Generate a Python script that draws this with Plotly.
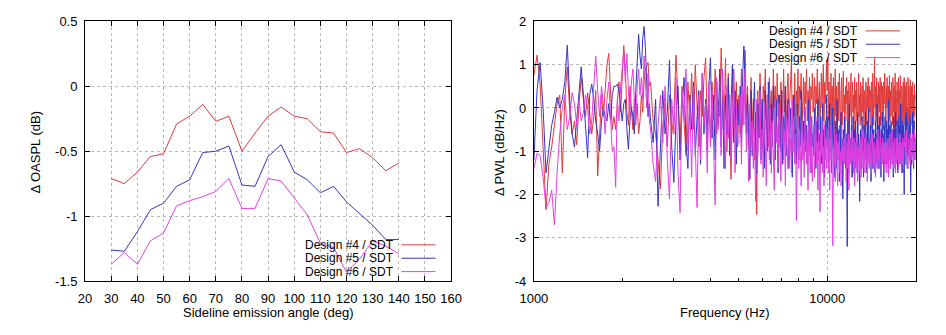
import math
import plotly.graph_objects as go

# ---------------- Left panel data ----------------
angles = [30, 35, 40, 45, 50, 55, 60, 65, 70, 75, 80, 85, 90, 95, 100, 105, 110, 115, 120, 125, 130, 135, 140]
oaspl_d4 = [-0.71, -0.75, -0.66, -0.54, -0.52, -0.29, -0.23, -0.14, -0.27, -0.23, -0.50, -0.36, -0.23,
            -0.16, -0.23, -0.25, -0.35, -0.36, -0.51, -0.48, -0.55, -0.65, -0.59]
oaspl_d5 = [-1.26, -1.27, -1.12, -0.95, -0.90, -0.77, -0.72, -0.51, -0.50, -0.46, -0.76, -0.77, -0.54,
            -0.45, -0.66, -0.72, -0.82, -0.77, -0.89, -0.98, -1.07, -1.18, -1.18]
oaspl_d6 = [-1.37, -1.28, -1.37, -1.19, -1.13, -0.92, -0.88, -0.85, -0.81, -0.71, -0.94, -0.94, -0.71,
            -0.73, -0.86, -0.99, -1.21, -1.24, -1.43, -1.33, -1.19, -1.23, -1.29]

# ---------------- Right panel data ----------------
freq = list(range(1000, 2500, 25)) + list(range(2500, 20001, 50))

pwl_d4 = [
    # 1000-2475 Hz (25 Hz)
    0.75, 1.22, 0.55, -0.85, -2.35, -1.3, -0.9, -0.4, 0.1, 0.3,
    -1.5, 0.2, 0.95, -0.1, -0.6, -0.3, -0.85, 0.1, 0.7, 0.2,
    -0.2, 0.35, -0.1, -0.6, -0.2, 0.4, -1.57, -0.6, 0.3, -0.2,
    0.5, 1.0, 1.26, 0.2, -0.5, -0.2, -0.5, 0.1, 0.6, -0.1,
    0.7, 1.44, 0.9, -0.1, -0.4, 0.5, 0.0, -0.5, 0.2, -0.3,
    0.1, -0.6, -0.3, 0.3, -0.1, 0.6, 0.9, 1.0, 1.05, 0.5,
    # 2500-4950 Hz (50 Hz)
    0.6, -0.3, -0.6, -1.2, -1.87, -0.4, 0.1, -0.9, 0.3, -0.6,
    -0.2, 1.22, 0.2, -0.8, 0.5, -0.4, -1.1, 0.6, -0.3, 0.8,
    -0.5, 1.0, 0.1, -0.9, 0.4, -0.2, 0.7, 1.15, -0.4, 0.3,
    -0.8, 0.6, -0.3, 0.9, -0.6, 0.2, -0.2, 1.38, 0.1, -0.5,
    1.15, -1.0, 0.8, -0.4, -1.65, 0.2, 0.9, -0.4, 0.6, -0.9,
    # 5000-9950 Hz
    0.3, -0.6, 0.9, -0.4, 0.6, 1.33, -0.2, 0.5, -0.9, -0.3,
    0.7, -0.5, 0.2, -1.2, -0.1, -2.46, 0.4, -0.7, 0.8, -0.2,
    -0.8, 0.5, 0.1, 0.9, -0.5, 0.3, -0.9, 0.7, -0.1, 0.4,
    -0.6, 0.9, 0.0, 0.5, -0.7, 0.8, -0.2, 0.3, -0.9, 0.6,
    0.1, -0.5, 0.9, -0.1, 0.5, -0.8, 0.4, 0.8, -0.3, 0.2,
    0.6, 1.07, -0.4, 0.3, -0.2, 0.8, -0.6, 0.4, 0.0, 0.9,
    -0.4, 0.5, 0.2, 0.8, -0.5, 0.3, 0.7, -0.2, 0.6, 0.1,
    0.9, -0.3, 0.4, 0.0, 0.7, -0.6, 0.5, 0.2, 0.8, -0.1,
    0.3, 0.7, -0.4, 0.5, 0.1, 0.9, -0.2, 0.4, 0.6, -0.5,
    0.2, 0.8, 0.0, 0.5, 1.0, -0.3, 0.6, 0.1, 0.7, 1.1,
    # 10000-20000 Hz
    0.4, 1.15, -0.3, 0.6, -0.7, 0.2, 0.8, -0.4, 0.5, -0.1,
    0.7, -0.6, 0.3, 0.9, -0.2, 0.5, -0.8, 0.1, 0.6, -0.3,
    0.8, 0.0, -0.5, 0.4, 0.7, -0.4, 0.2, 0.85, -0.1, 0.3,
    -0.6, 0.5, 0.1, 0.7, -0.3, 0.4, -0.7, 0.6, 0.2, -0.2,
    0.5, 0.8, -0.4, 0.1, 0.6, -0.1, 0.3, -0.6, 0.7, 0.0,
    0.4, -0.3, 0.6, 0.2, -0.5, 0.5, 0.8, -0.2, 0.3, -0.4,
    0.6, 0.1, -0.3, 0.5, -0.1, 0.7, 0.0, -0.5, 0.4, 0.2,
    -0.2, 0.6, 0.3, -0.4, 0.5, 0.0, 0.7, -0.3, 0.2, 0.5,
    -0.1, 0.4, -0.5, 0.6, 0.2, -0.2, 0.8, 0.1, -0.4, 0.3,
    1.15, 0.0, 0.5, -0.3, 0.4, 0.7, -0.2, 0.3, -0.5, 0.6,
    0.1, 0.5, -0.1, 0.7, -0.4, 0.3, 0.6, 0.0, -0.3, 0.5,
    0.2, -0.5, 0.6, 0.1, 0.8, -0.2, 0.4, -0.4, 0.5, 0.0,
    0.7, -0.1, 0.3, -0.6, 0.5, 0.2, 0.75, -0.3, 0.1, 0.4,
    -0.2, 0.6, 0.0, 0.4, -0.4, 0.7, 0.2, -0.1, 0.5, -0.5,
    0.3, 0.8, -0.2, 0.4, 0.1, -0.4, 0.6, 0.0, 0.5, -0.3,
    0.7, 0.1, -0.5, 0.4, 0.2, 0.75, -0.2, 0.3, -0.6, 0.5,
    0.0, 0.4, -0.3, 0.6, 0.2, -0.4, 0.7, 0.1, -0.2, 0.5,
    -0.5, 0.3, 0.6, -0.1, 0.4, 0.0, -0.4, 0.7, 0.2, -0.3,
    0.5, 0.1, -0.6, 0.4, 0.65, -0.2, 0.3, 0.0, 0.5, -0.4,
    0.2, 0.6, -0.1, 0.3, -0.5, 0.4, 0.1, 0.55, -0.2, 0.3,
    0.2,
]

pwl_d5 = [
    # 1000-2475 Hz (25 Hz)
    -1.2, 0.4, 1.05, 0.0, -1.5, -0.9, -0.4, -0.1, 0.25, 0.0,
    0.2, 0.6, 1.45, 0.2, -0.6, -0.9, -0.3, 0.2, 0.95, 0.3,
    -0.5, -1.15, 0.3, 0.55, 0.2, -0.3, -0.6, -1.0, -0.3, 0.0,
    -0.2, -0.3, 0.1, -0.3, 0.3, 0.5, 0.5, 0.55, 0.4, 0.0,
    -0.3, 0.1, 0.2, -0.5, -0.95, -0.3, 0.0, -0.2, -0.6, 0.4,
    1.0, 1.7, 1.2, 0.9, 1.6, 1.88, 1.4, 0.3, -0.2, 0.1,
    # 2500-4950 Hz (50 Hz)
    -0.3, -0.8, 0.2, -2.27, -1.0, 0.4, -0.6, -0.1, 1.1, -0.9,
    -1.72, -0.3, 0.5, -1.2, 0.0, 0.7, -0.8, -1.4, 0.3, -0.5,
    0.6, -1.1, -0.2, 0.4, -1.3, 0.8, -0.6, 0.2, -1.0, 0.5,
    1.16, -0.7, 0.3, -1.2, 0.6, -0.4, 0.9, -0.9, 0.2, -1.4,
    0.3, -0.6, 0.7, -1.1, 0.1, 1.0, -0.8, 0.4, -1.3, 0.2,
    # 5000-9950 Hz
    -0.4, 0.5, -0.9, 0.8, 1.43, 0.2, -0.6, 0.3, -0.8, -1.65,
    0.4, -1.1, -0.2, 0.6, -0.9, -1.5, 0.1, -0.7, 0.5, -1.2,
    0.2, -0.8, -1.4, 0.4, -0.3, -1.0, 0.6, -0.6, -1.3, 0.1,
    -0.9, 0.5, -0.4, -1.2, 0.2, -0.7, -1.5, 0.3, -0.5, -1.0,
    0.4, -1.3, -0.2, -0.8, 0.5, -1.1, -0.4, 0.2, -1.4, -0.6,
    0.0, -0.9, -1.6, -0.3, 0.3, -1.0, -0.5, -1.3, 0.1, -0.7,
    -1.2, -0.2, -0.9, 0.4, -0.6, -1.1, -0.3, -0.8, 0.0, -1.0,
    -0.4, -1.3, -0.7, 0.2, -1.0, -0.5, -1.5, -0.2, -0.9, -0.6,
    -1.1, 0.0, -0.8, -1.4, -0.3, -0.9, 0.2, -1.2, -0.6, -1.0,
    -0.2, -1.3, -0.7, 0.1, -1.1, -0.5, -1.6, -0.3, -0.9, 0.3,
    # 10000-20000 Hz
    -0.8, -0.2, -1.3, -0.5, 0.1, -1.0, -0.4, -1.5, -0.7, 0.0,
    -1.1, -0.6, -1.6, -0.3, -0.9, -1.4, 0.2, -0.8, -1.2, -0.5,
    -1.7, -0.4, -1.0, -0.1, -1.3, -0.7, -2.1, -0.5, -1.1, -0.2,
    -0.9, -1.4, -0.6, -1.0, -3.2, -0.3, -1.5, -0.8, 0.1, -1.2,
    -0.7, -1.3, -0.4, -1.0, -1.6, -0.2, -0.9, -1.2, -0.5, -1.4,
    -0.3, -1.1, -0.8, -1.5, -0.1, -0.9, -0.6, -1.0, -2.16, -1.3,
    -0.5, -0.9, -1.4, -0.2, -1.1, -0.7, -1.6, -0.4, -0.8, -1.2,
    -0.1, -1.0, -0.6, -1.5, -0.3, -1.2, -0.8, 0.0, -1.3, -0.7,
    -1.1, -0.4, -1.7, -0.6, -0.9, -0.2, -1.4, -0.8, -0.5, -1.2,
    -0.7, -1.5, -0.3, -1.0, -0.6, -1.3, 0.1, -0.9, -1.1, -0.4,
    -1.4, -0.8, -0.2, -1.1, -0.6, -1.6, -0.5, -0.9, -0.1, -1.2,
    -0.6, -1.0, -1.7, -0.4, -0.8, -0.2, -1.3, -0.7, -1.0, -0.3,
    -1.2, -0.5, -0.9, -1.5, 0.2, -0.8, -1.1, -0.4, -1.4, -0.6,
    -0.3, -1.0, -0.7, -1.3, -0.5, -0.9, -1.6, -0.2, -0.8, -1.1,
    -0.5, -1.4, -0.1, -0.9, -1.2, -0.6, -0.3, -1.0, -1.5, -0.7,
    -0.2, -1.1, -0.8, -0.4, -1.3, -0.6, 0.1, -0.9, -1.2, -0.5,
    -1.0, -0.3, -1.5, -0.7, -0.4, -1.1, -2.0, -0.6, -0.9, -0.2,
    -1.3, -0.7, -0.1, -1.0, -0.5, -1.4, -0.8, -0.3, -1.1, -0.6,
    -0.9, -0.4, -1.2, -0.6, -0.2, -1.95, -1.0, -0.7, -1.3, -0.4,
    -0.8, -0.1, -1.1, -0.5, -1.4, -0.7, -0.3, -1.0, -0.6, -1.2,
    -0.7,
]

pwl_d6 = [
    # 1000-2475 Hz (25 Hz)
    -1.4, -1.05, -1.1, -1.6, -2.3, -2.2, -1.9, -2.7, -1.5, -0.6,
    0.0, 0.3, -0.5, -0.2, 0.35, 0.1, -0.4, 0.2, -0.3, -0.1,
    0.3, 0.0, -0.6, -0.3, 0.5, 1.2, 0.4, -0.2, 0.5, 0.1,
    -0.6, 0.2, 0.6, -0.4, -1.0, -0.9, -1.83, 0.2, -0.3, 0.5,
    1.0, 1.3, 0.6, 1.25, 0.4, -0.2, 0.6, 0.9, 0.2, -0.4,
    0.5, 0.9, 0.3, 0.7, 0.2, 1.2, 0.6, 0.0, 0.8, -0.3,
    # 2500-4950 Hz (50 Hz)
    -0.5, -1.3, -1.7, -0.4, 0.3, -0.8, 0.5, -1.2, -2.1, 0.2,
    -0.6, 0.7, -1.5, -2.42, 0.4, -0.3, 0.9, -1.0, 0.2, -1.6,
    0.5, -0.8, -2.3, 0.3, -1.2, 0.8, -0.4, 0.1, -1.5, 0.6,
    -0.9, 0.4, -1.3, -2.24, 0.7, -0.5, 0.2, -1.1, 0.9, -0.3,
    -1.4, 0.5, -0.7, 0.3, -1.2, -0.2, 0.8, -1.5, 0.1, -0.8,
    # 5000-9950 Hz
    -0.8, 0.3, -1.3, 0.5, -0.4, 0.9, -1.0, -0.2, -1.7, 0.1,
    -0.9, -0.3, -1.4, -0.5, -2.16, 0.2, -1.1, -0.6, 0.4, -1.3,
    -0.5, -1.6, 0.1, -0.9, -1.8, 0.3, -0.7, -1.2, 0.0, -1.5,
    -0.3, -1.1, -1.9, 0.2, -0.8, -0.4, -1.4, 0.1, -1.0, -1.7,
    -0.6, 0.0, -1.2, -0.5, -1.8, -0.2, -0.9, -1.4, 0.1, -1.1,
    -0.7, -1.5, 0.2, -1.0, -0.4, -1.3, -0.6, -2.6, -1.1, -0.2,
    -1.4, -0.5, -1.0, -1.8, -0.3, -1.2, -0.8, -1.6, 0.0, -0.9,
    -1.3, -0.6, -1.9, -0.4, -1.1, -1.5, -0.2, -1.0, -1.7, -0.7,
    -0.4, -1.6, -1.0, -0.2, -1.3, -0.8, -1.9, -0.5, -1.2, -2.4,
    -0.6, -1.1, -0.3, -1.5, -0.9, -1.8, -0.4, -1.2, -0.7, -1.4,
    # 10000-20000 Hz
    -1.1, -0.5, -1.5, -0.8, -1.9, -0.4, -1.2, -0.7, -1.6, -3.18,
    -0.9, -1.3, -0.5, -1.7, -1.0, -0.6, -1.4, -1.8, -0.8, -1.2,
    -0.6, -1.5, -1.0, -1.8, -0.4, -1.2, -0.9, -1.6, -0.7, -1.3,
    -1.0, -0.5, -1.7, -1.1, -0.8, -1.4, -0.6, -1.9, -1.2, -0.7,
    -1.3, -0.9, -1.6, -0.5, -1.2, -1.0, -1.5, -0.7, -1.8, -1.1,
    -0.8, -1.4, -1.0, -0.6, -1.7, -1.2, -0.9, -1.5, -1.3, -0.7,
    -1.2, -1.6, -0.8, -1.1, -0.5, -1.4, -1.0, -1.3, -0.7, -1.5,
    -1.0, -0.6, -1.3, -1.1, -1.7, -0.8, -1.2, -0.9, -1.4, -1.0,
    -0.7, -1.3, -1.0, -1.5, -0.9, -1.2, -0.6, -1.4, -1.1, -0.8,
    -1.3, -0.9, -1.6, -1.0, -1.2, -0.7, -1.4, -1.1, -0.5, -1.2,
    -1.0, -1.4, -0.8, -1.2, -0.6, -1.1, -1.5, -0.9, -1.3, -0.7,
    -1.2, -0.8, -1.1, -1.4, -0.9, -1.3, -0.6, -1.0, -1.5, -0.8,
    -1.1, -1.3, -0.7, -1.0, -1.6, -0.9, -1.2, -0.6, -1.1, -1.4,
    -0.9, -1.2, -1.0, -0.5, -1.3, -1.1, -0.8, -1.4, -1.0, -0.7,
    -1.2, -0.9, -1.5, -1.0, -0.7, -1.3, -1.1, -0.6, -1.2, -0.9,
    -1.4, -0.8, -1.1, -1.3, -0.6, -1.0, -1.2, -0.8, -1.5, -0.9,
    -1.0, -1.3, -0.7, -1.1, -1.4, -0.8, -1.2, -0.9, -0.6, -1.1,
    -1.3, -0.8, -1.0, -0.5, -1.2, -0.9, -1.1, -1.4, -0.7, -1.0,
    -0.8, -1.2, -0.9, -1.3, -0.6, -1.1, -1.0, -0.7, -1.2, -0.9,
    -1.1, -0.6, -1.0, -1.3, -0.8, -1.2, -0.5, -1.0, -0.9, -1.1,
    -0.8,
]

series_names = ["Design #4 / SDT", "Design #5 / SDT", "Design #6 / SDT"]
colors = ["#e03a3a", "#3434c4", "#e040e0"]

left_xticks = list(range(20, 161, 10))
left_yticks = [-1.5, -1.0, -0.5, 0.0, 0.5]
left_ytext = ["-1.5", "-1", "-0.5", "0", "0.5"]
right_yticks = [-4, -3, -2, -1, 0, 1, 2]
right_ytext = ["-4", "-3", "-2", "-1", "0", "1", "2"]
right_xticks = [1000, 10000]
right_xminor = [2000, 3000, 4000, 5000, 6000, 7000, 8000, 9000]

W, H = 946, 335
def px(x):
    return x / W
def py(y):
    return 1 - y / H

fig = go.Figure()
for vals, c, n in zip([oaspl_d4, oaspl_d5, oaspl_d6], colors, series_names):
    fig.add_trace(go.Scatter(x=angles, y=vals, mode="lines", name=n,
                             line=dict(color=c, width=1), xaxis="x", yaxis="y", showlegend=False))

for vals, c, n in zip([pwl_d4, pwl_d5, pwl_d6], colors, series_names):
    m = min(len(freq), len(vals))
    fig.add_trace(go.Scatter(x=freq[:m], y=vals[:m], mode="lines", name=n,
                             line=dict(color=c, width=1), xaxis="x2", yaxis="y2", showlegend=False))

grid = dict(showgrid=True, gridcolor="#b8b8b8", gridwidth=1, griddash="dot", zeroline=False,
            showline=True, linecolor="black", linewidth=1, mirror="allticks",
            ticks="inside", ticklen=5, tickcolor="black", tickwidth=1)

ydom = [py(287), py(15)]
fig.update_layout(
    width=W, height=H, margin=dict(l=0, r=0, t=0, b=0),
    paper_bgcolor="white", plot_bgcolor="white", showlegend=False,
    font=dict(family="Liberation Sans, Arial, sans-serif", size=13, color="black"),
    xaxis=dict(domain=[px(73), px(449)], range=[20, 160], tickvals=left_xticks,
               ticktext=[str(v) for v in left_xticks], anchor="y", ticklabelstandoff=5, **grid),
    yaxis=dict(domain=ydom, range=[-1.5, 0.5], tickvals=left_yticks, ticktext=left_ytext,
               anchor="x", ticklabelstandoff=4, **grid),
    xaxis2=dict(type="log", domain=[px(534), px(926)], range=[3, math.log10(20000)],
                tickvals=right_xticks, ticktext=["1000", "10000"], anchor="y2", ticklabelstandoff=5,
                minor=dict(tickvals=right_xminor, ticks="inside", ticklen=3, tickcolor="black", showgrid=False),
                **grid),
    yaxis2=dict(domain=ydom, range=[-4, 2], tickvals=right_yticks, ticktext=right_ytext,
                anchor="x2", ticklabelstandoff=4, **grid),
)

# axis titles
fig.add_annotation(x=px(261), y=py(320), xref="paper", yref="paper", text="Sideline emission angle (deg)",
                   showarrow=False, xanchor="center", yanchor="middle")
fig.add_annotation(x=px(730), y=py(320), xref="paper", yref="paper", text="Frequency (Hz)",
                   showarrow=False, xanchor="center", yanchor="middle")
fig.add_annotation(x=px(22), y=py(152), xref="paper", yref="paper", text="Δ OASPL (dB)", textangle=-90,
                   showarrow=False, xanchor="center", yanchor="middle")
fig.add_annotation(x=px(498), y=py(152), xref="paper", yref="paper", text="Δ PWL (dB/Hz)", textangle=-90,
                   showarrow=False, xanchor="center", yanchor="middle")

# legends (text at left, line sample at right, as in the original)
def legend(text_right, line_x0, line_x1, rows):
    for n, c, yy in zip(series_names, colors, rows):
        fig.add_annotation(x=px(text_right), y=py(yy), xref="paper", yref="paper", text=n,
                           showarrow=False, xanchor="right", yanchor="middle",
                           font=dict(size=12), height=14, valign="middle", borderpad=0)
        fig.add_shape(type="line", xref="paper", yref="paper", x0=px(line_x0), x1=px(line_x1),
                      y0=py(yy), y1=py(yy), line=dict(color=c, width=1))

legend(391, 398, 433, [249, 263, 277])
legend(868, 875, 910, [25, 39, 53])

fig.write_html("out.html")
